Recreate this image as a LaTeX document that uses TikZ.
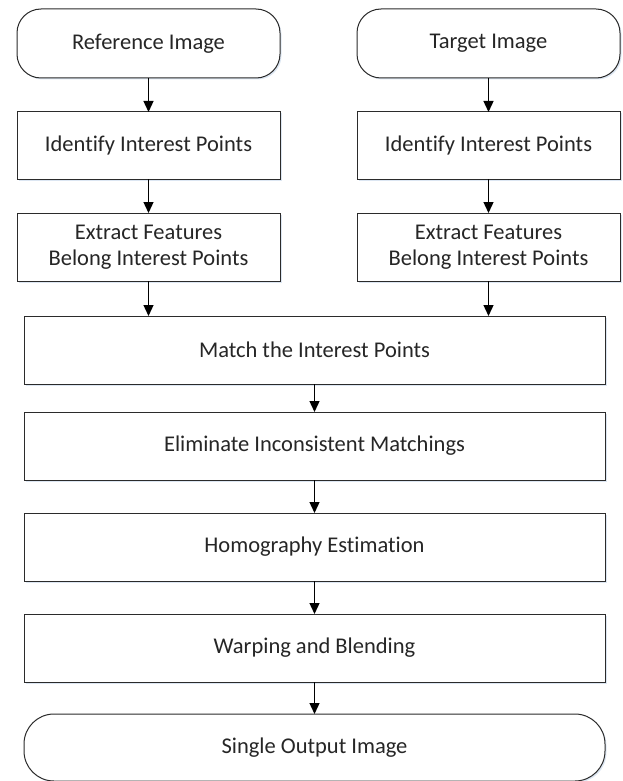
\documentclass[tikz,border=0pt]{standalone}
\usepackage{fontspec}
\setmainfont[Ligatures={NoCommon}]{Carlito}
\usetikzlibrary{arrows.meta,shadows}
\definecolor{edge}{HTML}{2B2B2B}
\definecolor{ink}{HTML}{262626}
\definecolor{haze}{HTML}{DCE6F2}
\tikzset{
  block/.style={draw=edge, line width=1pt, fill=white, inner sep=0pt, outer sep=0pt,
    text=ink, align=center, font=\fontsize{22.5}{26.5}\selectfont,
    drop shadow={shadow xshift=1.5pt, shadow yshift=-1.5pt, fill=haze, opacity=1}},
  sidebox/.style={block, minimum width=263pt},
  widebox/.style={block, minimum width=581pt},
  terminal/.style={rounded corners=24pt},
  flow/.style={draw=black, line width=1.3pt, -{Triangle[width=10pt,length=11pt]}}
}
\begin{document}
\begin{tikzpicture}[x=1pt, y=-1pt]
  \useasboundingbox (0,0) rectangle (622,781);

  % two input columns
  \node[sidebox, terminal, minimum height=69pt] (refimg) at (148.5,43.5) {Reference Image};
  \node[sidebox, terminal, minimum height=69pt] (tgtimg) at (488.5,43.5) {Target Image};
  \node[sidebox, minimum height=67pt] (refpts) at (148.5,145.5) {Identify Interest Points};
  \node[sidebox, minimum height=67pt] (tgtpts) at (488.5,145.5) {Identify Interest Points};
  \node[sidebox, minimum height=68pt] (reffeat) at (148.5,247) {Extract Features\\Belong Interest Points};
  \node[sidebox, minimum height=68pt] (tgtfeat) at (488.5,247) {Extract Features\\Belong Interest Points};

  % shared pipeline
  \node[widebox, minimum height=68pt] (match) at (314.5,350) {Match the Interest Points};
  \node[widebox, minimum height=68pt] (elim) at (314.5,446) {Eliminate Inconsistent Matchings};
  \node[widebox, minimum height=68pt] (homog) at (314.5,547) {Homography Estimation};
  \node[widebox, minimum height=68pt] (warp) at (314.5,648) {Warping and Blending};
  \node[widebox, rounded corners=30pt, minimum height=67pt] (out) at (314.5,747.5) {Single Output Image};

  % connectors
  \draw[flow] (refimg) -- (refpts);
  \draw[flow] (tgtimg) -- (tgtpts);
  \draw[flow] (refpts) -- (reffeat);
  \draw[flow] (tgtpts) -- (tgtfeat);
  \draw[flow] (reffeat.south) -- (reffeat.south |- match.north);
  \draw[flow] (tgtfeat.south) -- (tgtfeat.south |- match.north);
  \draw[flow] (match) -- (elim);
  \draw[flow] (elim) -- (homog);
  \draw[flow] (homog) -- (warp);
  \draw[flow] (warp) -- (out);
\end{tikzpicture}
\end{document}
